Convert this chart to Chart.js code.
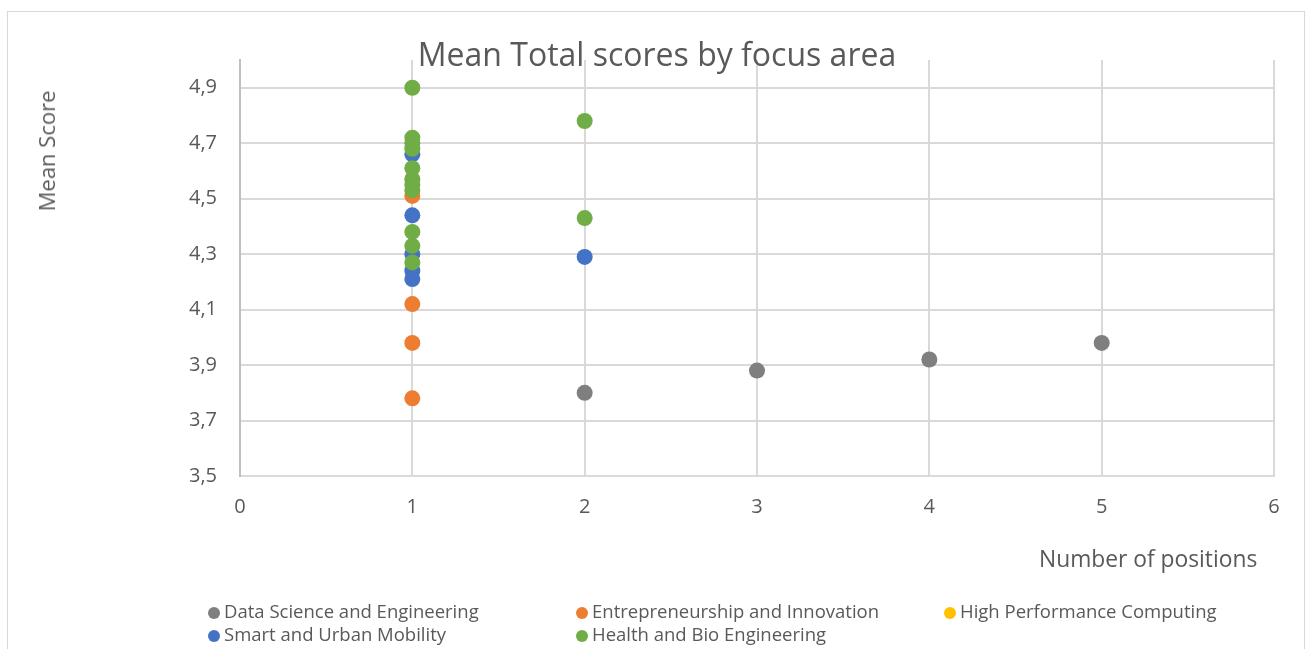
<!DOCTYPE html>
<html>
<head>
<meta charset="utf-8">
<script src="https://cdn.jsdelivr.net/npm/chart.js@4"></script>
<style>
  body { margin: 0; background: #fff; }
  #wrap { position: relative; width: 1314px; height: 649px; }
  #frame { position: absolute; left: 7px; top: 11px; width: 1298px; height: 660px; border: 1px solid #d9d9d9; box-sizing: border-box; }
  #myChart { position: absolute; left: 0; top: 0; }
  .txt { position: absolute; color: #595959; font-family: "Open Sans", sans-serif; white-space: nowrap; }
  #titulo { left: 0; width: 1314px; text-align: center; top: 32px; font-size: 32px; }
  #ytitulo { left: 46px; top: 151px; font-size: 22px; transform: translate(-50%, -50%) rotate(-90deg); }
  #xtitulo { left: 1039px; top: 543px; font-size: 22.8px; }
  #leyenda { position: absolute; left: 208px; top: 598px; width: 1100px; font-family: "Open Sans", sans-serif; font-size: 18.5px; color: #595959; }
  .item { position: absolute; white-space: nowrap; }
  .item span.dot { display: inline-block; width: 12px; height: 12px; border-radius: 50%; margin-right: 4px; vertical-align: -1px; }
</style>
</head>
<body>
<div id="wrap">
  <div id="frame"></div>
  <canvas id="myChart" width="1314" height="649"></canvas>
  <div class="txt" id="titulo">Mean Total scores by focus area</div>
  <div class="txt" id="ytitulo">Mean Score</div>
  <div class="txt" id="xtitulo">Number of positions</div>
  <div id="leyenda"></div>
</div>
<script>
var areas = ['Data Science and Engineering', 'Entrepreneurship and Innovation', 'High Performance Computing', 'Smart and Urban Mobility', 'Health and Bio Engineering'];
var colores = ['#7f7f7f', '#ed7d31', '#ffc000', '#4472c4', '#70ad47'];

// x = number of positions, y = mean score
var dataScienceX = [2, 3, 4, 5];
var dataScienceY = [3.80, 3.88, 3.92, 3.98];
var emprendX = [1, 1, 1, 1];
var emprendY = [4.51, 4.12, 3.98, 3.78];
var hpcX = [];
var hpcY = [];
var movilidadX = [1, 1, 1, 1, 1, 2];
var movilidadY = [4.66, 4.44, 4.30, 4.24, 4.21, 4.29];
var saludX = [1, 1, 1, 1, 1, 1, 1, 1, 1, 1, 1, 2, 2];
var saludY = [4.90, 4.72, 4.70, 4.68, 4.61, 4.57, 4.55, 4.53, 4.38, 4.33, 4.27, 4.78, 4.43];

var xTicks = [0, 1, 2, 3, 4, 5, 6];
var yTicks = [3.5, 3.7, 3.9, 4.1, 4.3, 4.5, 4.7, 4.9];

function puntos(xs, ys) {
    var p = [];
    for (var i = 0; i < xs.length; i++) {
        p.push({ x: xs[i], y: ys[i] });
    }
    return p;
}

var series = [
    puntos(dataScienceX, dataScienceY),
    puntos(emprendX, emprendY),
    puntos(hpcX, hpcY),
    puntos(movilidadX, movilidadY),
    puntos(saludX, saludY)
];

var datasets = [];
for (var i = 0; i < areas.length; i++) {
    datasets.push({
        label: areas[i],
        data: series[i],
        backgroundColor: colores[i],
        borderColor: colores[i],
        borderWidth: 0,
        pointRadius: 8,
        pointHoverRadius: 8,
        order: areas.length - i
    });
}

// leyenda en html, columnas fijas como en el original
var leyenda = document.getElementById('leyenda');
for (var i = 0; i < areas.length; i++) {
    var d = document.createElement('div');
    d.className = 'item';
    d.style.left = ((i % 3) * 368) + 'px';
    d.style.top = (Math.floor(i / 3) * 23) + 'px';
    d.innerHTML = '<span class="dot" style="background:' + colores[i] + '"></span>' + areas[i];
    leyenda.appendChild(d);
}

var ctx = document.getElementById('myChart');
var myChart = new Chart(ctx, {
    type: 'scatter',
    data: { datasets: datasets },
    options: {
        responsive: false,
        animation: false,
        layout: { padding: { left: 0, top: 60, right: 40, bottom: 0 } },
        plugins: {
            legend: { display: false },
            title: { display: false },
            tooltip: { enabled: false }
        },
        scales: {
            x: {
                type: 'linear',
                min: 0,
                max: 6,
                afterBuildTicks: function(scale) {
                    scale.ticks = xTicks.map(function(v) { return { value: v }; });
                },
                afterFit: function(scale) { scale.height = 173; },
                grid: { color: '#d9d9d9', lineWidth: 2, drawTicks: false },
                border: { color: '#d9d9d9', width: 2 },
                ticks: {
                    color: '#595959',
                    font: { family: 'Open Sans', size: 20 },
                    padding: 19
                }
            },
            y: {
                min: 3.5,
                max: 5.0,
                afterBuildTicks: function(scale) {
                    scale.ticks = yTicks.map(function(v) { return { value: v }; });
                },
                afterFit: function(scale) { scale.width = 240; },
                grid: { color: '#d9d9d9', lineWidth: 2, drawTicks: false },
                border: { color: '#bfbfbf', width: 2 },
                ticks: {
                    color: '#595959',
                    font: { family: 'Open Sans', size: 20 },
                    padding: 23,
                    callback: function(v) { return v.toFixed(1).replace('.', ','); }
                }
            }
        }
    }
});
</script>
</body>
</html>
